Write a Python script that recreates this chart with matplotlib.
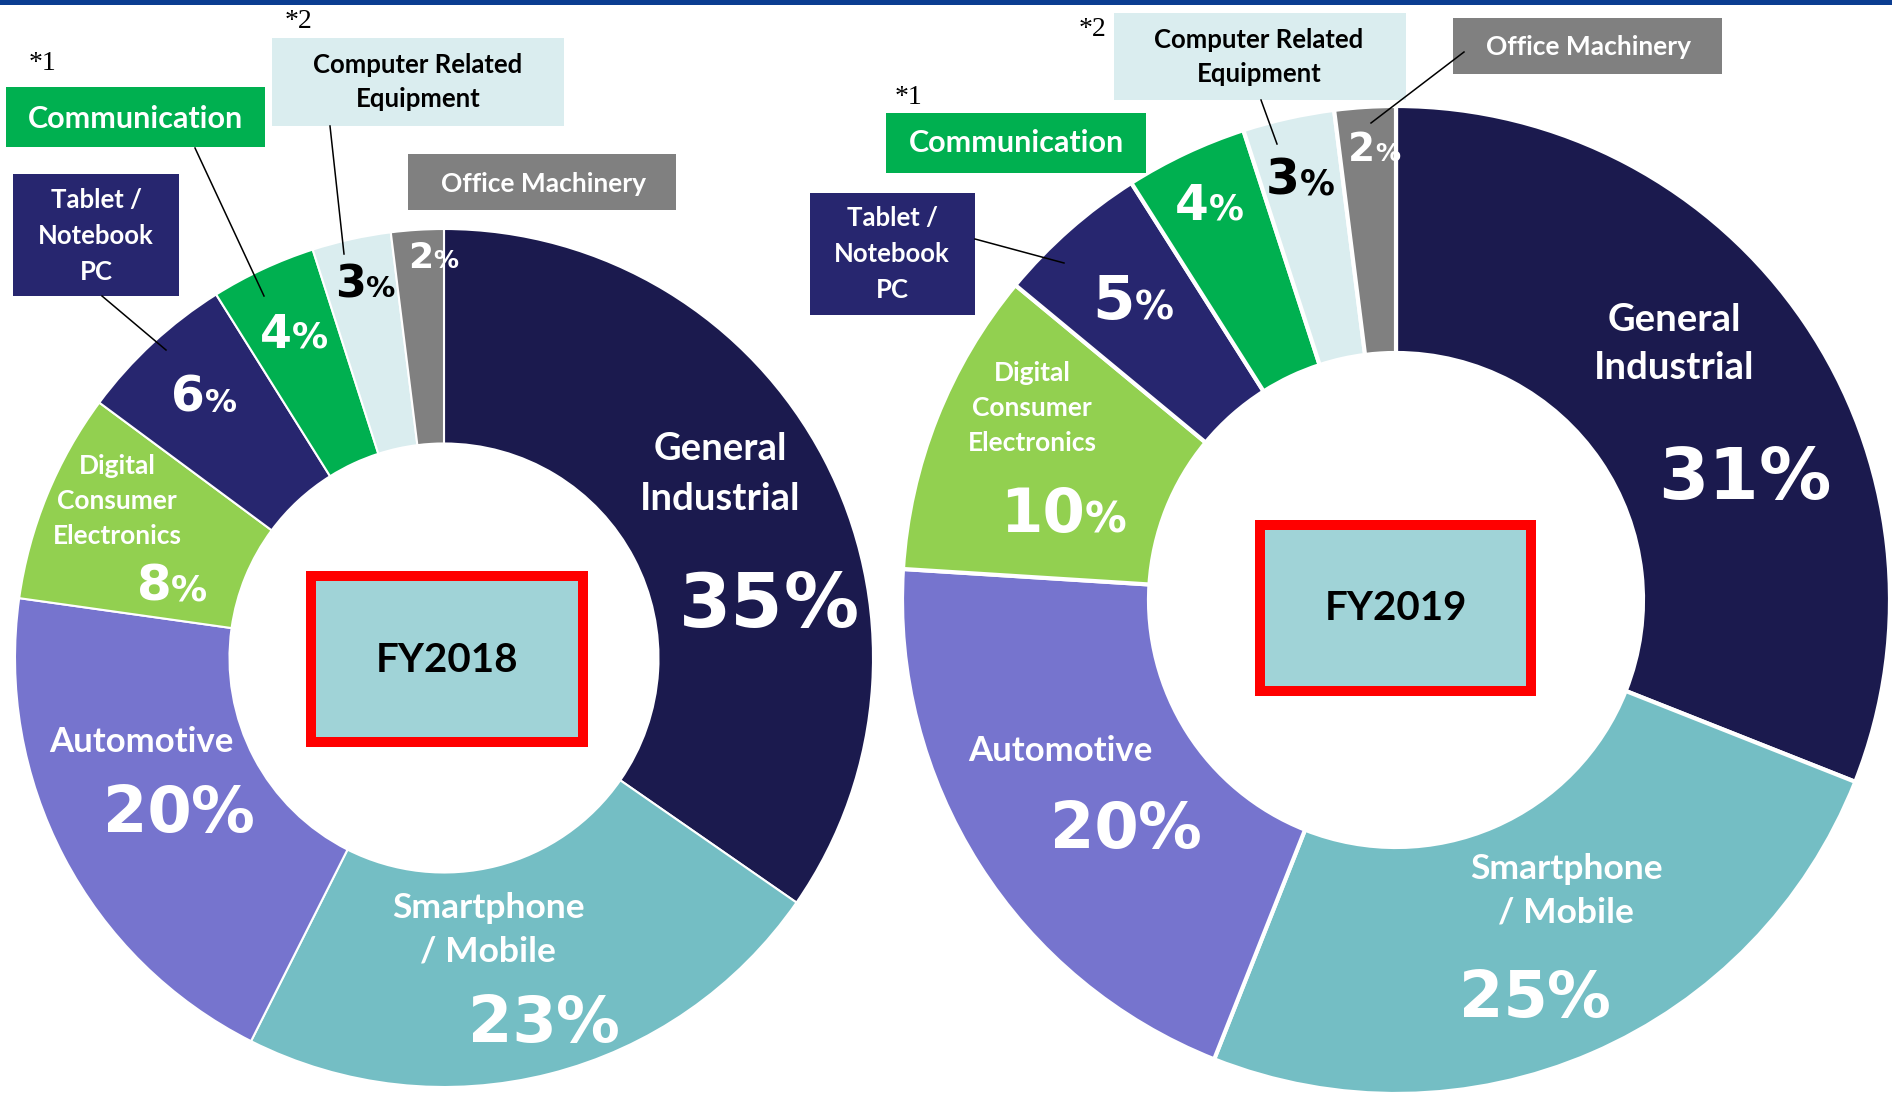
import matplotlib.pyplot as plt
from matplotlib.patches import Rectangle

W, H = 1892, 1095

# data (share of sales by application)
categories = ['General\nIndustrial', 'Smartphone\n/ Mobile', 'Automotive',
              'Digital\nConsumer\nElectronics', 'Tablet /\nNotebook\nPC',
              'Communication', 'Computer Related\nEquipment', 'Office Machinery']
fy2018 = [35, 23, 20, 8, 6, 4, 3, 2]
fy2019 = [31, 25, 20, 10, 5, 4, 3, 2]
years = ['FY2018', 'FY2019']
stars = ['*1', '*2']

colors = ['#1b1a4e', '#74bec4', '#7674ce', '#92d050',
          '#27266f', '#00b050', '#daedef', '#808080']
txt_colors = ['white'] * 6 + ['black', 'white']

NAME_FONT = 'Lato'
PCT_FONT = 'DejaVu Sans'


def Y(y):
    # image rows -> data y
    return H - y


def pct_label(ax, x, y, val, size, psize, color):
    # number and a (sometimes smaller) % sign, centred at x, cap centre at y
    em = size * 100 / 72
    pem = psize * 100 / 72
    wnum = len(str(val)) * 0.696 * em
    wpct = 1.002 * pem
    xs = x - (wnum + wpct) / 2 + wnum
    base = Y(y + 0.73 * em / 2)
    ax.text(xs, base, str(val), ha='right', va='baseline', fontsize=size,
            fontweight='bold', family=PCT_FONT, color=color)
    ax.text(xs, base, '%', ha='left', va='baseline', fontsize=psize,
            fontweight='bold', family=PCT_FONT, color=color)


# names: (x, y, size, linespacing)
layouts = [
    dict(cx=444, cy=658, r=429, edge=1.5, box=(306, 571, 588, 747), year_xy=(447, 660),
         pct=[(769, 600, 54, 54), (544, 1019, 46, 46), (179, 809, 46, 46), (172, 582, 36, 26),
              (204, 394, 35, 23), (294, 331, 33, 26), (365, 281, 32, 21), (433, 255, 26, 18)],
         names=[(720, 474, 27.5, 1.55), (488, 930, 25.5, 1.45), (141, 742, 25, 1.2),
                (117, 501, 19, 1.55)],
         callouts=[((13, 174, 179, 296), (96, 236), 18.5, 1.6, ((102, 296), (166, 350)), None),
                   ((6, 87, 265, 147), (135, 119), 22, 1.2, ((195, 148), (264, 296)), (43, 63)),
                   ((272, 38, 564, 126), (418, 82), 18.5, 1.5, ((330, 126), (344, 254)), (299, 22)),
                   ((408, 154, 676, 210), (543, 184), 19, 1.2, None, None)]),
    dict(cx=1396, cy=600, r=494, edge=3, box=(1255, 520, 1536, 696), year_xy=(1396, 608),
         pct=[(1745, 473, 52, 52), (1535, 994, 46, 46), (1126, 825, 46, 46), (1063, 510, 44, 30),
              (1133, 297, 44, 28), (1209, 202, 35, 25), (1300, 177, 35, 25), (1374, 147, 28, 18)],
         names=[(1674, 344, 27.5, 1.5), (1566, 891, 25.5, 1.45), (1060, 751, 25, 1.2),
                (1032, 408, 19, 1.55)],
         callouts=[((810, 193, 975, 315), (892, 254), 18.5, 1.6, ((975, 239), (1064, 263)), None),
                   ((886, 113, 1146, 173), (1016, 143), 22, 1.2, None, (909, 97)),
                   ((1114, 13, 1406, 100), (1259, 57), 18.5, 1.5, ((1261, 100), (1277, 144)), (1093, 30)),
                   ((1453, 18, 1722, 74), (1588, 47), 19, 1.2, ((1464, 52), (1371, 123)), None)]),
]

fig = plt.figure(figsize=(W / 100, H / 100), dpi=100)
ax = fig.add_axes([0, 0, 1, 1])

for values, year, lay in zip([fy2018, fy2019], years, layouts):
    r = lay['r']
    ax.pie(values, colors=colors, startangle=90, counterclock=False, radius=r,
           center=(lay['cx'], Y(lay['cy'])),
           wedgeprops=dict(width=0.5 * r, edgecolor='white', linewidth=lay['edge']))

    # year box in the hole
    x0, y0, x1, y1 = lay['box']
    ax.add_patch(Rectangle((x0 + 5, Y(y1 - 5)), x1 - x0 - 10, y1 - y0 - 10,
                           facecolor='#a0d3d7', edgecolor='#ff0000', linewidth=7.2, zorder=3))
    ax.text(lay['year_xy'][0], Y(lay['year_xy'][1]), year, ha='center', va='center',
            fontsize=29, fontweight='bold', family=NAME_FONT, color='black', zorder=4)

    for i, (x, y, s, ps) in enumerate(lay['pct']):
        pct_label(ax, x, y, values[i], s, ps, txt_colors[i])

    for i, (x, y, s, ls) in enumerate(lay['names']):
        ax.text(x, Y(y), categories[i], ha='center', va='center', fontsize=s,
                fontweight='bold', family=NAME_FONT, color='white', linespacing=ls)

    for j, (bx, txy, s, ls, lead, star) in enumerate(lay['callouts']):
        i = 4 + j
        bx0, by0, bx1, by1 = bx
        ax.add_patch(Rectangle((bx0, Y(by1)), bx1 - bx0, by1 - by0,
                               facecolor=colors[i], edgecolor='none', zorder=2))
        ax.text(txy[0], Y(txy[1]), categories[i], ha='center', va='center', fontsize=s,
                fontweight='bold', family=NAME_FONT, color=txt_colors[i],
                linespacing=ls, zorder=3)
        if lead is not None:
            ax.plot([lead[0][0], lead[1][0]], [Y(lead[0][1]), Y(lead[1][1])],
                    color='black', linewidth=1.1, zorder=4)
        if star is not None:
            ax.text(star[0], Y(star[1]), stars[j - 1], ha='center', va='center',
                    fontsize=20, family='Liberation Serif', color='black')

# thin blue rule along the top edge
ax.add_patch(Rectangle((0, H - 5), W, 5, facecolor='#0b3d91', edgecolor='none', zorder=5))

ax.set_xlim(0, W)
ax.set_ylim(0, H)
ax.set_aspect('auto')
ax.axis('off')

fig.savefig('out.png', dpi=100)
